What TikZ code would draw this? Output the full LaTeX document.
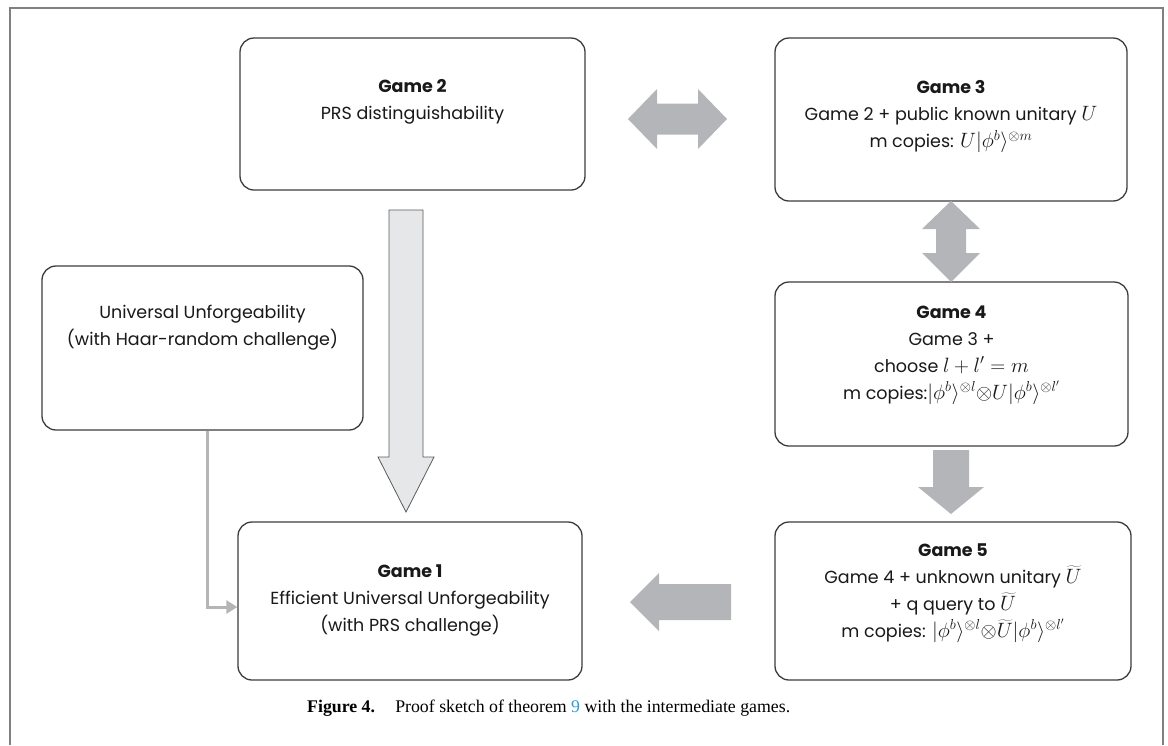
\documentclass[tikz,border=0pt]{standalone}
\usepackage{fontspec}
\setmainfont{Liberation Serif}
\newfontfamily\gfont{Poppins}
\usetikzlibrary{arrows.meta}
\definecolor{framec}{HTML}{808080}
\definecolor{boxc}{HTML}{3C3C3C}
\definecolor{blkc}{HTML}{B4B5B8}
\definecolor{lightc}{HTML}{E6E7E8}
\definecolor{lightd}{HTML}{5A5A5A}
\definecolor{connc}{HTML}{B5B5B5}
\definecolor{linkc}{HTML}{2A9FD6}
\newcommand{\mth}[1]{{\fontsize{20}{27}\selectfont$#1$}}
\begin{document}
\begin{tikzpicture}[x=1pt,y=-1pt,
  gbox/.style={draw=boxc, line width=1.3pt, rounded corners=14pt, fill=white, inner sep=0pt},
  gtext/.style={align=center, font=\gfont\fontsize{17.5}{27}\selectfont, text=black!90, inner sep=0pt},
  blk/.style={fill=blkc},
  lightarrow/.style={fill=lightc, draw=lightd, line width=0.8pt},
  conn/.style={draw=connc, line width=3pt, -{Triangle[length=11pt,width=13pt]}},
  framestyle/.style={draw=framec, line width=2pt}]
\useasboundingbox (0,0) rectangle (1168,745);
% outer frame
\draw[framestyle] (10,745) -- (10,7.5) -- (1162.5,7.5) -- (1162.5,745);

% boxes
\node[gbox, minimum width=345, minimum height=152] (g2) at (412.5,114) {};
\node[gbox, minimum width=352, minimum height=163] (g3) at (951,119.5) {};
\node[gbox, minimum width=353, minimum height=164] (g4) at (951.5,364) {};
\node[gbox, minimum width=356, minimum height=158] (g5) at (953,601) {};
\node[gbox, minimum width=344, minimum height=158] (g1) at (410,601) {};
\node[gbox, minimum width=321, minimum height=164] (uu) at (202.5,348) {};

% texts
\node[gtext] (g2t) at (412.5,102) {\textbf{Game 2}\\PRS distinguishability};
\node[gtext] (g3t) at (951,117) {\textbf{Game 3}\\Game 2 + public known unitary \mth{U}\\m copies: \mth{U|\phi^b\rangle^{\otimes m}}};
\node[gtext] (g4t) at (951.5,355) {\textbf{Game 4}\\Game 3 +\\choose \mth{l+l'=m}\\m copies:\mth{|\phi^b\rangle^{\otimes l}{\otimes} U|\phi^b\rangle^{\otimes l'}}};
\node[gtext] (g5t) at (953,593) {\textbf{Game 5}\\Game 4 + unknown unitary \mth{\widetilde{U}}\\+ q query to \mth{\widetilde{U}}\\m copies: \mth{|\phi^b\rangle^{\otimes l}{\otimes} \widetilde{U}|\phi^b\rangle^{\otimes l'}}};
\node[gtext] (g1t) at (410,600) {\textbf{Game 1}\\Efficient Universal Unforgeability\\(with PRS challenge)};
\node[gtext] (uut) at (202.5,328) {Universal Unforgeability\\(with Haar-random challenge)};

% block arrows
\fill[blk] (628,119) -- (657,89) -- (657,103.5) -- (698,103.5) -- (698,89) -- (727,119)
  -- (698,149) -- (698,134.5) -- (657,134.5) -- (657,149) -- cycle;
\fill[blk] (951,201) -- (980,229) -- (966,229) -- (966,253) -- (980,253) -- (951,282)
  -- (922,253) -- (936,253) -- (936,229) -- (922,229) -- cycle;
\fill[blk] (933,450) -- (969,450) -- (969,487) -- (984,487) -- (951,514) -- (918,487)
  -- (933,487) -- cycle;
\fill[blk] (630,602) -- (659,573) -- (659,584) -- (731,584) -- (731,620) -- (659,620)
  -- (659,631) -- cycle;
\filldraw[lightarrow] (389,210) -- (423,210) -- (423,457) -- (434,457) -- (406,512)
  -- (378,457) -- (389,457) -- cycle;

% connector
\draw[conn] ([xshift=4.5pt]uu.south) |- ([yshift=-6pt]g1.west);

% caption
\node[anchor=base west, inner sep=0pt, font=\fontsize{17.8}{20}\selectfont] (cap) at (307,712)
  {\textbf{Figure 4.}\hspace{0.8em} Proof sketch of theorem {\color{linkc}9} with the intermediate games.};
\end{tikzpicture}
\end{document}
